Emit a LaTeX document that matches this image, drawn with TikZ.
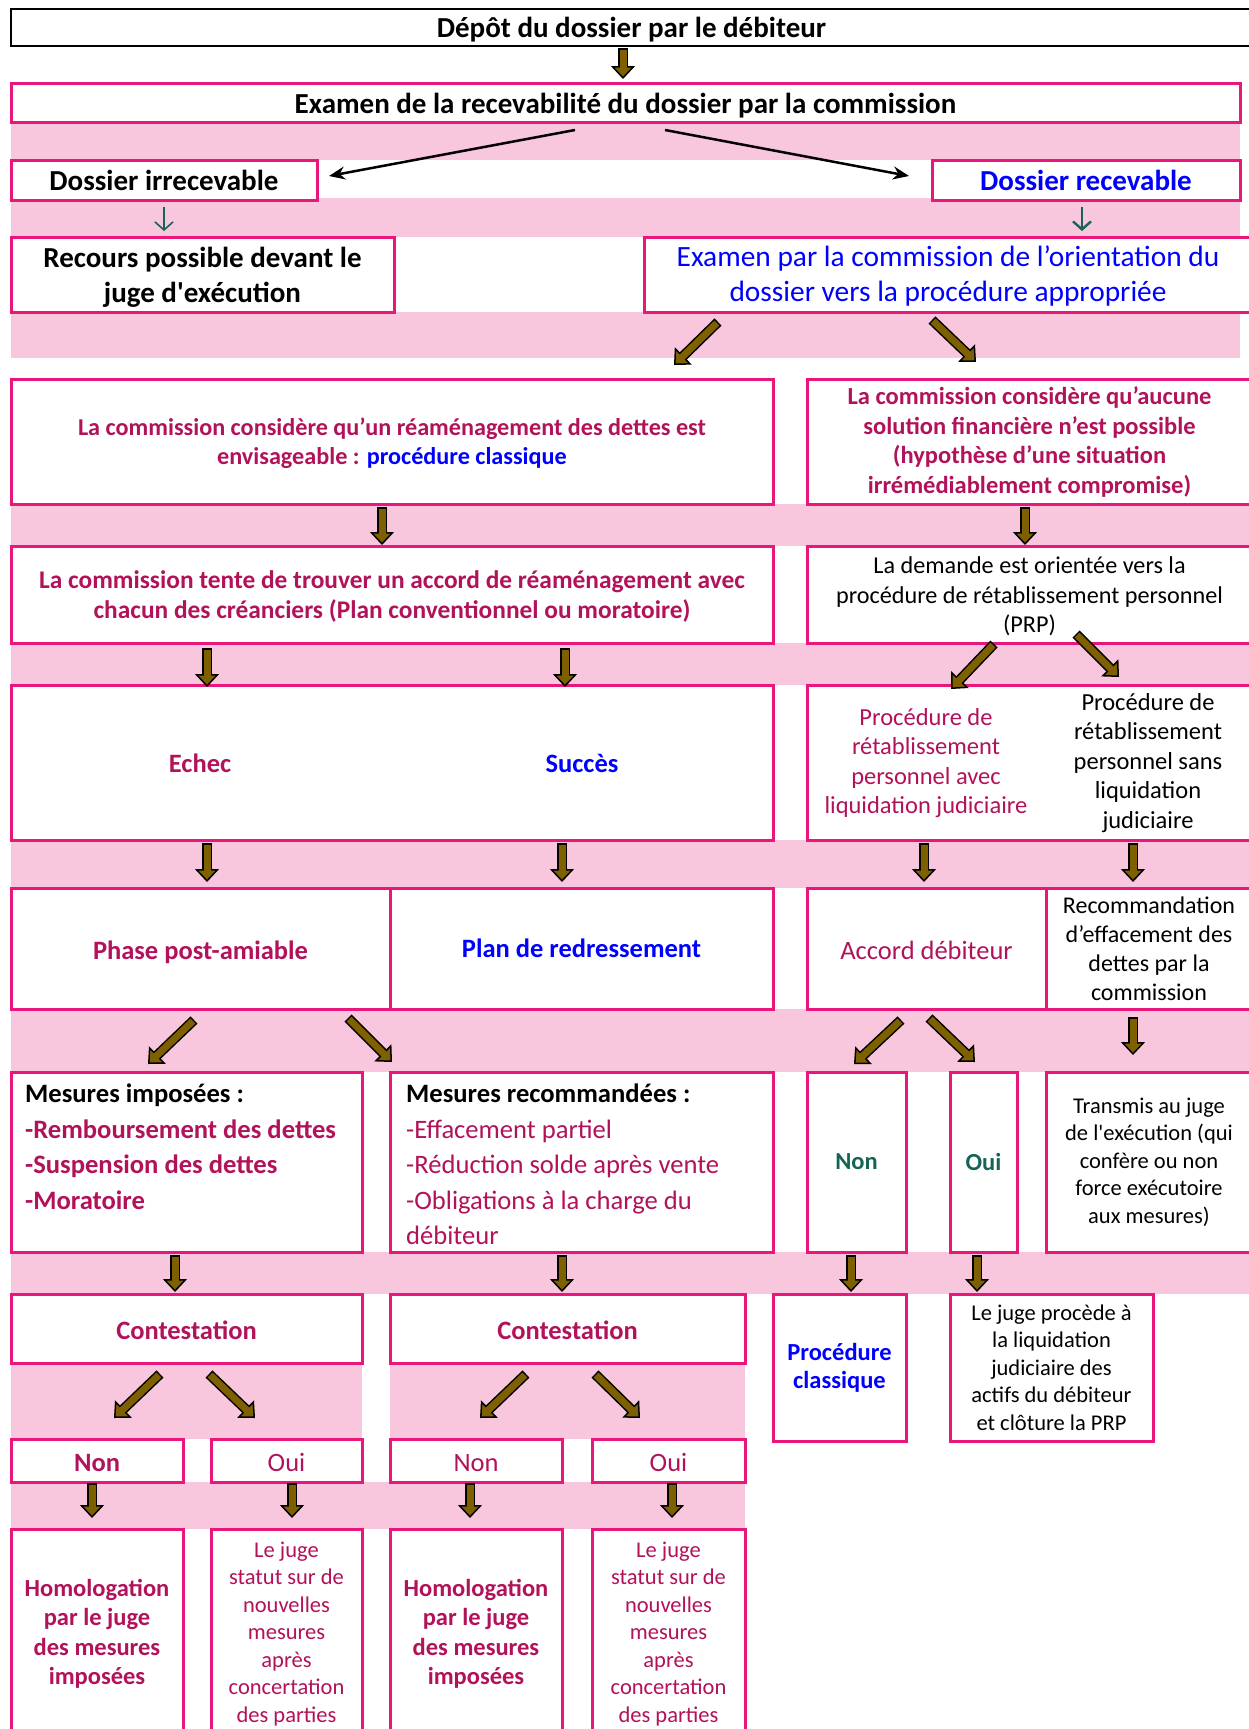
\documentclass[tikz,border=0pt]{standalone}
\usepackage{fontspec}
\setmainfont{Carlito}
\usetikzlibrary{arrows.meta}
\usetikzlibrary{calc}
\definecolor{mborder}{RGB}{233,23,124}
\definecolor{mpink}{RGB}{248,198,221}
\definecolor{mtext}{RGB}{178,18,90}
\definecolor{mblue}{RGB}{0,0,255}
\definecolor{mteal}{RGB}{22,100,86}
\definecolor{abrown}{RGB}{127,96,0}
\newcommand\szA{\fontsize{29}{35}\selectfont}
\newcommand\szB{\fontsize{26.5}{32}\selectfont}
\newcommand\szC{\fontsize{24.5}{29.5}\selectfont}
\newcommand\szD{\fontsize{22.5}{27.5}\selectfont}
\newcommand\szM{\fontsize{26.6}{35.5}\selectfont}
\newcommand\lft[1]{\rule{0pt}{#1em}}
\tikzset{box/.style = {draw=mborder, line width=3, fill=white, inner sep=0, outer sep=0, align=center}}
\tikzset{low/.style = {execute at begin node={\rule{0pt}{#1}}}, low/.default=0.9em}
\tikzset{band/.style = {fill=mpink}}
\tikzset{barrow/.style = {draw=black, line width=10,
                          -{Triangle[length=13pt, width=24pt, fill=abrown, line width=1.5pt]},
                          postaction={draw=abrown, line width=7, -, shorten >=10pt, shorten <=1.5pt}}}
\tikzset{karrow/.style = {draw=black, line width=2.5, -{Stealth[length=16pt, width=13pt]}}}
\tikzset{tarrow/.style = {draw=mteal, line width=2, -{Straight Barb[length=8pt, width=18pt]}}}

\begin{document}
\begin{tikzpicture}[x=1pt, y=-1pt]
    \useasboundingbox (0,0) rectangle (1249,1729);
    \clip (0,0) rectangle (1249,1729);

    % pink bands behind the rows
    \foreach \xa/\ya/\xb/\yb in {11/122/1240/160, 11/198/1240/237, 11/312/1240/358,
        11/504/1249/546, 11/643/1249/685, 11/840/1249/888, 11/1009/1249/1072,
        11/1252/1249/1294, 11/1363/362/1439, 390/1363/745/1439, 11/1482/745/1529} {
      \fill [band] (\xa,\ya) rectangle (\xb,\yb);
    }

    \node [box, low=0.85em, draw=black, line width=2.5, minimum width=1241, minimum height=37, font=\szA\bfseries] (depot) at (631.5,27.5) {Dépôt du dossier par le débiteur};
    \node [box, low=0.93em, minimum width=1229, minimum height=39, font=\szA\bfseries] (recev) at (625.5,102.5) {Examen de la recevabilité du dossier par la commission};

    \node [box, minimum width=306, minimum height=40, font=\szA\bfseries] (irrec) at (164,180) {Dossier irrecevable};
    \node [box, minimum width=308, minimum height=40, font=\szA\bfseries, text=mblue] (recevable) at (1086,180) {Dossier recevable};
    \node [box, minimum width=383, minimum height=75, font=\szA\bfseries] (recours) at (202.5,274.5) {\lft{0.86}Recours possible devant le\\juge d\textquotesingle exécution};
    \node [box, minimum width=608, minimum height=75, font=\fontsize{29.4}{35}\selectfont, text=mblue] (orient) at (948,274.5) {\lft{0.82}Examen par la commission de l’orientation du\\dossier vers la procédure appropriée};

    \node [box, minimum width=762, minimum height=125, font=\fontsize{24.2}{29.5}\selectfont\bfseries, text=mtext] (classic) at (392,441.5)
      {\lft{0.87}La commission considère qu’un réaménagement des dettes est\\envisageable : \textcolor{mblue}{procédure classique}};
    \node [box, minimum width=445, minimum height=125, font=\szC\bfseries, text=mtext] (aucune) at (1029.5,441.5)
      {\lft{0.78}La commission considère qu’aucune\\solution financière n’est possible\\(hypothèse d’une situation\\irrémédiablement compromise)};
    \node [box, minimum width=762, minimum height=97, font=\fontsize{25.4}{30.5}\selectfont\bfseries, text=mtext] (tente) at (392,594.5)
      {\lft{0.86}La commission tente de trouver un accord de réaménagement avec\\chacun des créanciers (Plan conventionnel ou moratoire)};
    \node [box, minimum width=445, minimum height=97, font=\fontsize{24.2}{29.5}\selectfont] (demande) at (1029.5,594.5)
      {\lft{0.87}La demande est orientée vers la\\procédure de rétablissement personnel\\(PRP)};

    \node [box, minimum width=762, minimum height=155] (issue) at (392,762.5) {};
    \node [font=\szB\bfseries, text=mtext] (echec) at (200,763) {Echec};
    \node [font=\szB\bfseries, text=mblue] (succes) at (582,763) {Succès};
    \node [box, minimum width=445, minimum height=155] (prp) at (1029.5,762.5) {};
    \node [font=\szC, text=mtext, align=center, inner sep=0] (prpavec) at (926,763) {Procédure de\\rétablissement\\personnel avec\\liquidation judiciaire};
    \node [font=\szC, align=center, inner sep=0] (prpsans) at (1148,763) {Procédure de\\rétablissement\\personnel sans\\liquidation\\judiciaire};

    \node [box, low=0.98em, minimum width=379, minimum height=121, font=\szB\bfseries, text=mtext] (postam) at (200.5,948.5) {Phase post-amiable};
    \node [box, minimum width=383, minimum height=121, font=\szB\bfseries, text=mblue] (redress) at (581.5,948.5) {Plan de redressement};
    \node [box, low=0.85em, minimum width=239, minimum height=121, font=\szB, text=mtext] (accord) at (926.5,948.5) {Accord débiteur};
    \node [box, minimum width=206, minimum height=121, font=\fontsize{24}{29}\selectfont] (recomm) at (1149,948.5)
      {Recommandation\\d’effacement des\\dettes par la\\commission};

    \node [box, minimum width=351, minimum height=180] (imposees) at (186.5,1162) {};
    \node [anchor=north west, align=left, font=\szM, inner sep=0] (imptxt) at ($(imposees.north west)+(14,12)$)
      {\textbf{Mesures imposées :}\\\textcolor{mtext}{\textbf{-Remboursement des dettes}}\\\textcolor{mtext}{\textbf{-Suspension des dettes}}\\\textcolor{mtext}{\textbf{-Moratoire}}};
    \node [box, minimum width=383, minimum height=180] (recomman) at (581.5,1162) {};
    \node [anchor=north west, align=left, font=\szM, inner sep=0] (rectxt) at ($(recomman.north west)+(16,12)$)
      {\textbf{Mesures recommandées :}\\\textcolor{mtext}{-Effacement partiel}\\\textcolor{mtext}{-Réduction solde après vente}\\\textcolor{mtext}{-Obligations à la charge du}\\\textcolor{mtext}{débiteur}};
    \node [box, minimum width=99, minimum height=180, font=\szC\bfseries, text=mteal] (nonA) at (856.5,1162) {Non};
    \node [box, minimum width=67, minimum height=180, font=\szC\bfseries, text=mteal] (ouiA) at (983.5,1162) {Oui};
    \node [box, minimum width=206, minimum height=180, font=\szD] (transmis) at (1149,1162)
      {Transmis au juge\\de l\textquotesingle exécution (qui\\confère ou non\\force exécutoire\\aux mesures)};

    \node [box, low=0.85em, minimum width=351, minimum height=69, font=\szB\bfseries, text=mtext] (cont1) at (186.5,1328.5) {Contestation};
    \node [box, low=0.85em, minimum width=355, minimum height=69, font=\szB\bfseries, text=mtext] (cont2) at (567.5,1328.5) {Contestation};
    \node [box, minimum width=133, minimum height=147, font=\fontsize{24.5}{28}\selectfont\bfseries, text=mblue] (procclass) at (839.5,1367.5) {Procédure\\classique};
    \node [box, minimum width=203, minimum height=147, font=\szD] (liquid) at (1051.5,1367.5)
      {Le juge procède à\\la liquidation\\judiciaire des\\actifs du débiteur\\et clôture la PRP};

    \node [box, low=0.81em, minimum width=172, minimum height=43, font=\szB\bfseries, text=mtext] (non1) at (97,1460.5) {Non};
    \node [box, low=0.81em, minimum width=151, minimum height=43, font=\szB, text=mtext] (oui1) at (286.5,1460.5) {Oui};
    \node [box, low=0.81em, minimum width=172, minimum height=43, font=\szB, text=mtext] (non2) at (476,1460.5) {Non};
    \node [box, low=0.81em, minimum width=153, minimum height=43, font=\szB, text=mtext] (oui2) at (668.5,1460.5) {Oui};

    \node [box, minimum width=172, minimum height=210, font=\szC\bfseries, text=mtext] (homol1) at (97,1634) {Homologation\\par le juge\\des mesures\\imposées};
    \node [box, minimum width=151, minimum height=210, font=\szD, text=mtext] (juge1) at (286.5,1634) {Le juge\\statut sur de\\nouvelles\\mesures\\après\\concertation\\des parties};
    \node [box, minimum width=172, minimum height=210, font=\szC\bfseries, text=mtext] (homol2) at (476,1634) {Homologation\\par le juge\\des mesures\\imposées};
    \node [box, minimum width=153, minimum height=210, font=\szD, text=mtext] (juge2) at (668.5,1634) {Le juge\\statut sur de\\nouvelles\\mesures\\après\\concertation\\des parties};

    \draw [karrow] ($(recev.south)+(-50.5,8)$) -- ($(irrec.east)+(12,-4)$);
    \draw [karrow] ($(recev.south)+(39.5,8)$) -- ($(recevable.west)+(-23,-4)$);
    \draw [tarrow, line width=1.6] ($(irrec.south)+(0,7)$) -- ($(irrec.south |- recours.north)+(0,-6)$);
    \draw [tarrow, line width=2.4] ($(recevable.south)+(-4,7)$) -- ($(recevable.south |- orient.north)+(-4,-6)$);

    % straight block arrows
    \foreach \src/\dst/\dx/\ty/\hy in {depot/recev/-8.5/2/-4, classic/tente/-10/3/-1, aucune/demande/-4.5/3/-1,
        tente/issue/-185/5/2, tente/issue/173/5/2, issue/postam/-185/3/-6, issue/redress/170/3/-6,
        prp/accord/-105.5/3/-6, prp/recomm/103.5/3/-6, recomm/transmis/-16/8/-17,
        imposees/cont1/-11.5/3/-2, recomman/cont2/-19.5/3/-2, nonA/procclass/-5.5/3/-2, ouiA/liquid/-6.5/3/-2,
        non1/homol1/-5/1/-11, oui1/juge1/5.5/1/-11, non2/homol2/-6/1/-11, oui2/juge2/3.5/1/-11} {
      \draw [barrow] ($(\src.south)+(\dx,\ty)$) -- ($(\src.south |- \dst.north)+(\dx,\hy)$);
    }
    % slanted block arrows
    \foreach \src/\dst/\sx/\sy/\ex/\ey in {orient/classic/-230/10/282/-14, orient/aucune/-16/8/-53.5/-17,
        demande/prp/-35.5/1/-78.5/4, demande/prp/46.5/-9/89.5/-8,
        postam/imposees/-6.5/11/-38.5/-8, postam/recomman/147.5/9/-189.5/-10,
        accord/nonA/-25.5/11/-2.5/-8, accord/ouiA/2.5/9/-8.5/-10,
        cont1/non1/-26.5/11/17/-21, cont1/oui1/22.5/11/-31.5/-21,
        cont2/non2/-41.5/11/4/-21, cont2/oui2/27.5/11/-28.5/-21} {
      \draw [barrow] ($(\src.south)+(\sx,\sy)$) -- ($(\dst.north)+(\ex,\ey)$);
    }
\end{tikzpicture}
\end{document}
